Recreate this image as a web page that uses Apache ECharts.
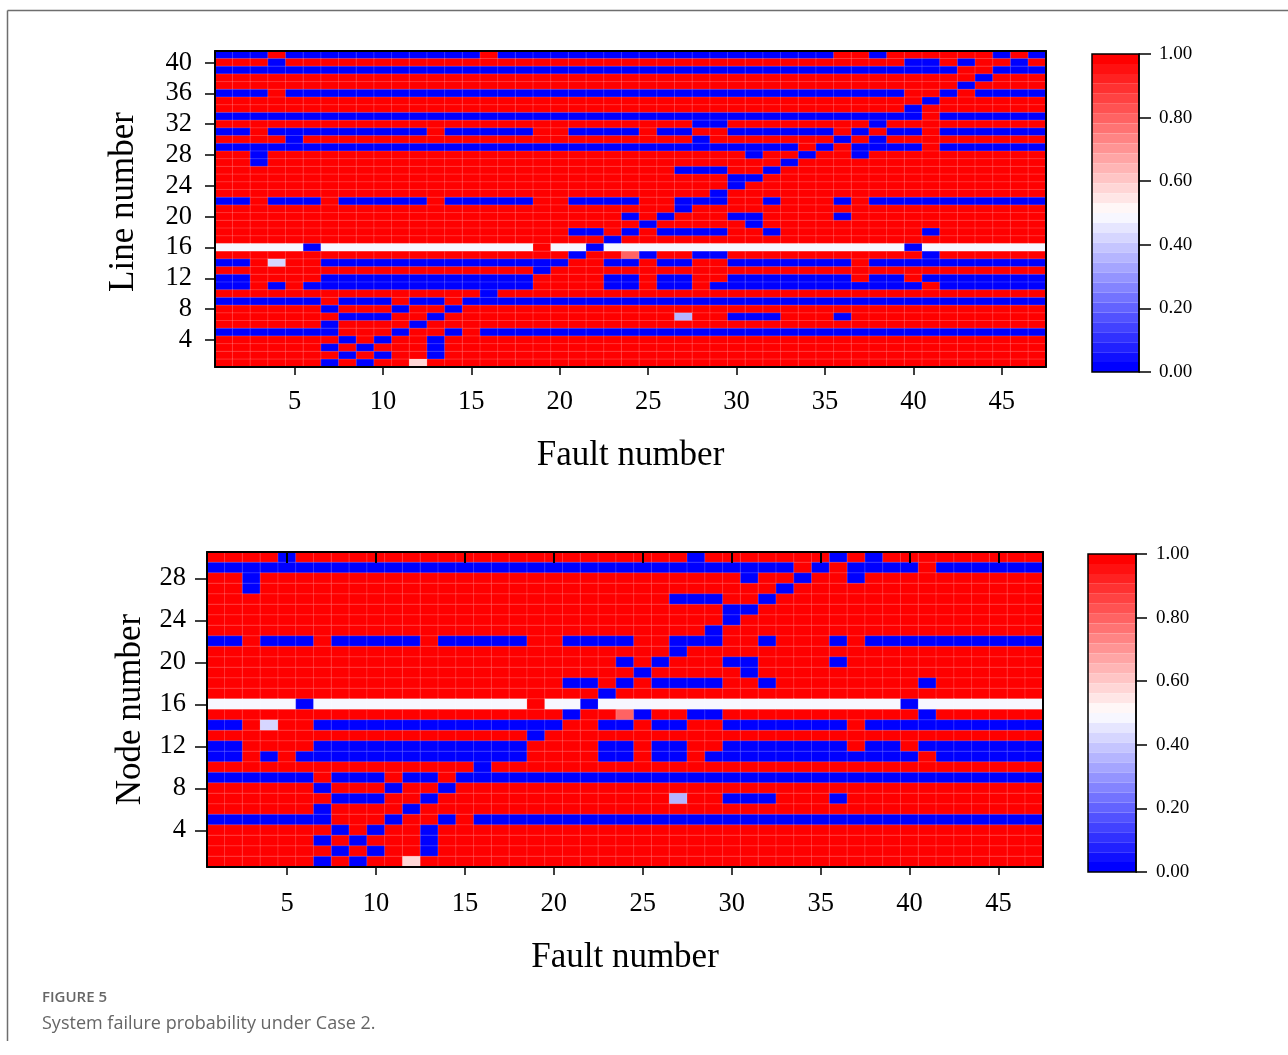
<!DOCTYPE html>
<html>
<head>
<meta charset="utf-8">
<script src="https://cdn.jsdelivr.net/npm/echarts@6.0.0/dist/echarts.min.js"></script>
<style>
html,body{margin:0;padding:0;background:#fff;}
#chart{width:1288px;height:1055px;}
</style>
</head>
<body>
<div id="chart"></div>
<script>
// ---------- categories / tick labels ----------
const faultNumbers = ['1','2','3','4','5','6','7','8','9','10','11','12','13','14','15','16','17','18','19','20',
  '21','22','23','24','25','26','27','28','29','30','31','32','33','34','35','36','37','38','39','40',
  '41','42','43','44','45','46','47'];
const lineNumbers = ['1','2','3','4','5','6','7','8','9','10','11','12','13','14','15','16','17','18','19','20',
  '21','22','23','24','25','26','27','28','29','30','31','32','33','34','35','36','37','38','39','40','41'];
const nodeNumbers = ['1','2','3','4','5','6','7','8','9','10','11','12','13','14','15','16','17','18','19','20',
  '21','22','23','24','25','26','27','28','29','30'];
const colorbarTicks = [0, 0.2, 0.4, 0.6, 0.8, 1.0];

// ---------- cell values ----------
// code -> failure probability
const cellCodes = { '0': 0, '1': 1, 'w': 0.49, 'a': 0.41, 'l': 0.35, 'p': 0.58, 's': 0.80 };

// Line number heatmap: first string = line 41 (top), last = line 1; columns = fault 1..47
const lineRows = [
  "00010 00000 00000 10000 00000 00000 00000 11011 11110 10", // 41
  "11101 11111 11111 11111 11111 11111 11111 11110 01011 01", // 40
  "00000 00000 00000 00000 00000 00000 00000 00000 00110 00", // 39
  "11111 11111 11111 11111 11111 11111 11111 11111 11101 11", // 38
  "11111 11111 11111 11111 11111 11111 11111 11111 11011 11", // 37
  "00010 00000 00000 00000 00000 00000 00000 00001 10100 00", // 36
  "11111 11111 11111 11111 11111 11111 11111 11111 01111 11", // 35
  "11111 11111 11111 11111 11111 11111 11111 11110 11111 11", // 34
  "00000 00000 00000 00000 00000 00000 00000 00000 10000 00", // 33
  "11111 11111 11111 11111 11111 11001 11111 11011 11111 11", // 32
  "00100 00000 00100 00011 00001 00110 00000 10100 10000 00", // 31
  "11110 11111 11111 11111 11111 11011 11111 01011 11111 11", // 30
  "00000 00000 00000 00000 00000 00000 00010 10000 10000 00", // 29
  "11011 11111 11111 11111 11111 11111 01101 10111 11111 11", // 28
  "11011 11111 11111 11111 11111 11111 11011 11111 11111 11", // 27
  "11111 11111 11111 11111 11111 10001 10111 11111 11111 11", // 26
  "11111 11111 11111 11111 11111 11110 01111 11111 11111 11", // 25
  "11111 11111 11111 11111 11111 11110 11111 11111 11111 11", // 24
  "11111 11111 11111 11111 11111 11101 11111 11111 11111 11", // 23
  "00100 01000 00100 00011 00001 10001 10111 01000 00000 00", // 22
  "11111 11111 11111 11111 11111 10111 11111 11111 11111 11", // 21
  "11111 11111 11111 11111 11101 01110 01111 01111 11111 11", // 20
  "11111 11111 11111 11111 11110 11111 01111 11111 11111 11", // 19
  "11111 11111 11111 11111 00101 00001 10111 11111 01111 11", // 18
  "11111 11111 11111 11111 11011 11111 11111 11111 11111 11", // 17
  "wwwww 0wwww wwwww www1w w0www wwwww wwwww wwww0 wwwww ww", // 16
  "11111 11111 11111 11111 011s0 11001 11111 11111 01111 11", // 15
  "001a1 10000 00000 00000 11001 00110 00000 01000 00000 00", // 14
  "11111 11111 11111 11101 11111 11111 11111 11111 11111 11", // 13
  "00111 10000 00000 00011 11001 00110 00000 01001 00000 00", // 12
  "00101 00000 00000 00011 11001 00100 00000 00000 10000 00", // 11
  "11111 11111 11111 01111 11111 11111 11111 11111 11111 11", // 10
  "00000 01000 10010 00000 00000 00000 00000 00000 00000 00", // 9
  "11111 10111 01101 11111 11111 11111 11111 11111 11111 11", // 8
  "11111 11000 11011 11111 11111 1l110 00111 01111 11111 11", // 7
  "11111 10111 10111 11111 11111 11111 11111 11111 11111 11", // 6
  "00000 00111 01101 00000 00000 00000 00000 00000 00000 00", // 5
  "11111 11010 11011 11111 11111 11111 11111 11111 11111 11", // 4
  "11111 10101 11011 11111 11111 11111 11111 11111 11111 11", // 3
  "11111 11010 11011 11111 11111 11111 11111 11111 11111 11", // 2
  "11111 10101 1p111 11111 11111 11111 11111 11111 11111 11"  // 1
];

// Node number heatmap: first string = node 30 (top), last = node 1
const nodeRows = [
  "11110 11111 11111 11111 11111 11011 11111 01011 11111 11", // 30
  "00000 00000 00000 00000 00000 00000 00010 10000 10000 00", // 29
  "11011 11111 11111 11111 11111 11111 01101 10111 11111 11", // 28
  "11011 11111 11111 11111 11111 11111 11011 11111 11111 11", // 27
  "11111 11111 11111 11111 11111 10001 10111 11111 11111 11", // 26
  "11111 11111 11111 11111 11111 11110 01111 11111 11111 11", // 25
  "11111 11111 11111 11111 11111 11110 11111 11111 11111 11", // 24
  "11111 11111 11111 11111 11111 11101 11111 11111 11111 11", // 23
  "00100 01000 00100 00011 00001 10001 10111 01000 00000 00", // 22
  "11111 11111 11111 11111 11111 10111 11111 11111 11111 11", // 21
  "11111 11111 11111 11111 11101 01110 01111 01111 11111 11", // 20
  "11111 11111 11111 11111 11110 11111 01111 11111 11111 11", // 19
  "11111 11111 11111 11111 00101 00001 10111 11111 01111 11", // 18
  "11111 11111 11111 11111 11011 11111 11111 11111 11111 11", // 17
  "wwwww 0wwww wwwww www1w w0www wwwww wwwww wwww0 wwwww ww", // 16
  "11111 11111 11111 11111 011s0 11001 11111 11111 01111 11", // 15
  "001a1 10000 00000 00000 11001 00110 00000 01000 00000 00", // 14
  "11111 11111 11111 11101 11111 11111 11111 11111 11111 11", // 13
  "00111 10000 00000 00011 11001 00110 00000 01001 00000 00", // 12
  "00101 00000 00000 00011 11001 00100 00000 00000 10000 00", // 11
  "11111 11111 11111 01111 11111 11111 11111 11111 11111 11", // 10
  "00000 01000 10010 00000 00000 00000 00000 00000 00000 00", // 9
  "11111 10111 01101 11111 11111 11111 11111 11111 11111 11", // 8
  "11111 11000 11011 11111 11111 1l110 00111 01111 11111 11", // 7
  "11111 10111 10111 11111 11111 11111 11111 11111 11111 11", // 6
  "00000 00111 01101 00000 00000 00000 00000 00000 00000 00", // 5
  "11111 11010 11011 11111 11111 11111 11111 11111 11111 11", // 4
  "11111 10101 11011 11111 11111 11111 11111 11111 11111 11", // 3
  "11111 11010 11011 11111 11111 11111 11111 11111 11111 11", // 2
  "11111 10101 1p111 11111 11111 11111 11111 11111 11111 11"  // 1
];

function toHeatData(rows) {
  const n = rows.length, out = [];
  rows.forEach(function (s, i) {
    const str = s.replace(/ /g, '');
    const y = n - 1 - i;
    for (let x = 0; x < str.length; x++) out.push([x, y, cellCodes[str[x]]]);
  });
  return out;
}

// ---------- styling ----------
const SERIF = 'Liberation Serif';
const BLACK = '#000';
const cmap = ['#0000ff', '#ffffff', '#ff0000'];
const TICK_FS = 26.5;
const NAME_FS = 35;
const every5 = function (idx) { return (idx + 1) % 5 === 0; };
const every4 = function (idx) { return (idx + 1) % 4 === 0; };

function catX(grid, pos, opts) {
  return Object.assign({
    type: 'category', gridIndex: grid, data: faultNumbers, position: pos, z: 10,
    boundaryGap: true,
    axisLine: { show: true, onZero: false, lineStyle: { color: BLACK, width: 2 } },
    axisTick: { show: false },
    axisLabel: { show: false },
    splitLine: { show: false }
  }, opts || {});
}
function catY(grid, data, pos, opts) {
  return Object.assign({
    type: 'category', gridIndex: grid, data: data, position: pos, z: 10,
    boundaryGap: true,
    axisLine: { show: true, onZero: false, lineStyle: { color: BLACK, width: 2 } },
    axisTick: { show: false },
    axisLabel: { show: false },
    splitLine: { show: false }
  }, opts || {});
}
function cbAxis(grid, tickLen, margin) {
  return {
    type: 'value', gridIndex: grid, min: 0, max: 1, interval: 0.2, position: 'right', z: 10,
    axisLine: { show: true, onZero: false, lineStyle: { color: BLACK, width: 1.5 } },
    axisTick: { show: true, inside: false, length: tickLen, lineStyle: { color: BLACK, width: 1.5 } },
    axisLabel: { show: true, inside: false, margin: margin, fontFamily: SERIF, fontSize: 19, color: BLACK,
      formatter: function (v) { return colorbarTicks.indexOf(Math.round(v * 10) / 10) >= 0 ? v.toFixed(2) : ''; } },
    splitLine: { show: false }
  };
}

const option = {
  backgroundColor: '#fff',
  animation: false,
  grid: [
    { left: 215, top: 51, width: 831, height: 316 },
    { left: 207, top: 552, width: 836, height: 315 },
    { left: 1092, top: 54, width: 47, height: 318 },
    { left: 1088, top: 554, width: 48, height: 318 }
  ],
  xAxis: [
    catX(0, 'bottom', {
      axisTick: { show: true, interval: every5, alignWithLabel: true, length: 8, lineStyle: { color: BLACK, width: 1.5 } },
      axisLabel: { show: true, interval: every5, margin: 22, fontFamily: SERIF, fontSize: TICK_FS, color: BLACK },
      name: 'Fault number', nameLocation: 'middle', nameGap: 71,
      nameTextStyle: { fontFamily: SERIF, fontSize: NAME_FS, color: BLACK }
    }),
    catX(0, 'top'),
    catX(1, 'bottom', {
      axisTick: { show: true, interval: every5, alignWithLabel: true, length: 8, lineStyle: { color: BLACK, width: 1.5 } },
      axisLabel: { show: true, interval: every5, margin: 24, fontFamily: SERIF, fontSize: TICK_FS, color: BLACK },
      name: 'Fault number', nameLocation: 'middle', nameGap: 73,
      nameTextStyle: { fontFamily: SERIF, fontSize: NAME_FS, color: BLACK }
    }),
    catX(1, 'top', {
      axisTick: { show: true, inside: true, interval: every5, alignWithLabel: true, length: 11, lineStyle: { color: BLACK, width: 2 } }
    }),
    { type: 'value', gridIndex: 2, show: false, min: 0, max: 1 },
    { type: 'value', gridIndex: 3, show: false, min: 0, max: 1 }
  ],
  yAxis: [
    catY(0, lineNumbers, 'left', {
      axisTick: { show: true, interval: every4, alignWithLabel: true, length: 10, lineStyle: { color: BLACK, width: 1.5 } },
      axisLabel: { show: true, interval: every4, margin: 23, fontFamily: SERIF, fontSize: TICK_FS, color: BLACK },
      name: 'Line number', nameLocation: 'middle', nameGap: 74, nameRotate: 90,
      nameTextStyle: { fontFamily: SERIF, fontSize: NAME_FS, color: BLACK, padding: [0, 0, 0, 14] }
    }),
    catY(0, lineNumbers, 'right'),
    catY(1, nodeNumbers, 'left', {
      axisTick: { show: true, interval: every4, alignWithLabel: true, length: 12, lineStyle: { color: BLACK, width: 1.5 } },
      axisLabel: { show: true, interval: every4, margin: 21, fontFamily: SERIF, fontSize: TICK_FS, color: BLACK },
      name: 'Node number', nameLocation: 'middle', nameGap: 56, nameRotate: 90,
      nameTextStyle: { fontFamily: SERIF, fontSize: NAME_FS, color: BLACK }
    }),
    catY(1, nodeNumbers, 'right'),
    cbAxis(2, 12, 20),
    cbAxis(3, 11, 20)
  ],
  visualMap: [
    { type: 'piecewise', seriesIndex: 0, min: 0, max: 1, splitNumber: 32, precision: 5,
      orient: 'vertical', left: 1092, top: 54, padding: 0, itemWidth: 47, itemHeight: 318 / 32, itemGap: 0,
      itemSymbol: 'rect', showLabel: false, hoverLink: false, selectedMode: false,
      inRange: { color: cmap } },
    { type: 'piecewise', seriesIndex: 1, min: 0, max: 1, splitNumber: 32, precision: 5,
      orient: 'vertical', left: 1088, top: 554, padding: 0, itemWidth: 48, itemHeight: 318 / 32, itemGap: 0,
      itemSymbol: 'rect', showLabel: false, hoverLink: false, selectedMode: false,
      inRange: { color: cmap } }
  ],
  series: [
    { type: 'heatmap', name: 'Line failure probability', xAxisIndex: 0, yAxisIndex: 0,
      data: toHeatData(lineRows), progressive: 0,
      itemStyle: { borderColor: 'rgba(255,255,255,0.22)', borderWidth: 0.8 },
      emphasis: { disabled: true } },
    { type: 'heatmap', name: 'Node failure probability', xAxisIndex: 2, yAxisIndex: 2,
      data: toHeatData(nodeRows), progressive: 0,
      itemStyle: { borderColor: 'rgba(255,255,255,0.22)', borderWidth: 0.8 },
      emphasis: { disabled: true } }
  ],
  graphic: [
    { type: 'line', z: 1, shape: { x1: 7.5, y1: 10.5, x2: 1288, y2: 10.5 }, style: { stroke: '#6e6e6e', lineWidth: 1.5 } },
    { type: 'line', z: 1, shape: { x1: 7.5, y1: 10.5, x2: 7.5, y2: 1041 }, style: { stroke: '#6e6e6e', lineWidth: 1.5 } },
    { type: 'rect', z: 100, shape: { x: 1092, y: 54, width: 47, height: 318 }, style: { fill: null, stroke: BLACK, lineWidth: 1.5 } },
    { type: 'rect', z: 100, shape: { x: 1088, y: 554, width: 48, height: 318 }, style: { fill: null, stroke: BLACK, lineWidth: 1.5 } },
    { type: 'text', left: 42, top: 990, style: { text: 'FIGURE 5', fill: '#666', font: '600 15px "Open Sans"' } },
    { type: 'text', left: 42, top: 1015, style: { text: 'System failure probability under Case 2.', fill: '#666', font: '18px "Open Sans"' } }
  ]
};

const chart = echarts.init(document.getElementById('chart'), null, { renderer: 'canvas' });
chart.setOption(option);
</script>
</body>
</html>
